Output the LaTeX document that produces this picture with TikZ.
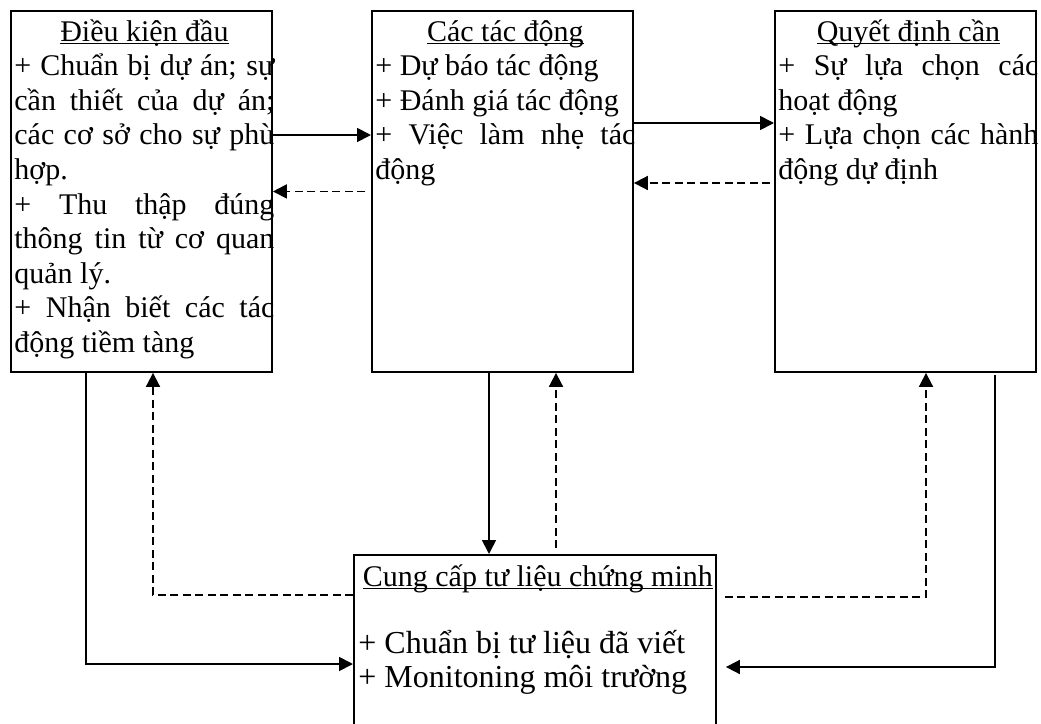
\documentclass[tikz,border=0pt]{standalone}
\usepackage{fontspec}
\setmainfont{Liberation Serif}
\usetikzlibrary{arrows.meta}
\newcommand\ulttl[1]{\setbox0\hbox{#1}\rlap{\rule[-3.2pt]{\wd0}{1.6pt}}\box0}
\newcommand\jl[1]{\makebox[260pt][s]{#1}}
\newcommand\ctr[1]{\makebox[260pt]{#1}}
\newcommand\boxtext[1]{\parbox[t]{260pt}{\lineskiplimit=-100pt\lineskip=0pt\parindent=0pt #1}}
\begin{document}
\begin{tikzpicture}[x=1pt,y=-1pt,line width=1.8pt,
  box/.style={draw,line width=1.9pt,rectangle,inner sep=0pt,anchor=north west},
  txt/.style={anchor=base west,inner sep=0pt,font=\fontsize{30}{34.6}\selectfont},
  sol/.style={-{Triangle[length=14pt,width=14pt]}},
  dsh/.style={dash pattern=on 8pt off 4.5pt,-{Triangle[length=14pt,width=14pt]}}]
\useasboundingbox (0,0) rectangle (1041,723);
\clip (0,0) rectangle (1041,723);
\fill[white] (0,0) rectangle (1041,723);
% boxes
\node[box,minimum width=261pt,minimum height=361pt] (b1) at (10,10) {};
\node[box,minimum width=261pt,minimum height=361pt] (b2) at (371,10) {};
\node[box,minimum width=261pt,minimum height=361pt] (b3) at (774,10) {};
\node[box,minimum width=362pt,minimum height=220pt] (b4) at (353,554) {};
% texts
\node[txt] (t1) at (13.5,41) {\boxtext{\ctr{\ulttl{Điều kiện đầu}}\\
\jl{+ Chuẩn bị dự án; sự}\\
\jl{cần thiết của dự án;}\\
\jl{các cơ sở cho sự phù}\\
hợp.\\
\jl{+ Thu thập đúng}\\
\jl{thông tin từ cơ quan}\\
quản lý.\\
\jl{+ Nhận biết các tác}\\
động tiềm tàng}};
\node[txt] (t2) at (374.5,41) {\boxtext{\ctr{\ulttl{Các tác động}}\\
+ Dự báo tác động\\
+ Đánh giá tác động\\
\jl{+ Việc làm nhẹ tác}\\
động}};
\node[txt] (t3) at (777.5,41) {\boxtext{\ctr{\ulttl{Quyết định cần}}\\
\jl{+ Sự lựa chọn các}\\
hoạt động\\
\jl{+ Lựa chọn các hành}\\
động dự định}};
\node[txt] (t4a) at (362,586) {\ulttl{Cung cấp tư liệu chứng minh}};
\node[txt,font=\fontsize{32}{34.5}\selectfont] (t4b) at (357.5,653) {\parbox[t]{350pt}{\lineskiplimit=-100pt\lineskip=0pt\parindent=0pt + Chuẩn bị tư liệu đã viết\\
+ Monitoning môi trường}};
% connectors
\draw[sol] (b1.east |- 0,135) -- (b2.west |- 0,135);
\draw[dsh,shorten <=6pt] (b2.west) -- (b1.east);
\draw[sol] (b2.east |- 0,123) -- (b3.west |- 0,123);
\draw[dsh,shorten <=4pt] (b3.west |- 0,183) -- (b2.east |- 0,183);
\draw[sol] (b2.south -| 489,0) -- (b4.north -| 489,0);
\draw[dsh,shorten <=6pt] (b4.north -| 556,0) -- (b2.south -| 556,0);
\draw[dsh] (b4.west |- 0,595) -| (b1.south -| 153,0);
\draw[sol] (b1.south -| 86,0) |- (b4.west |- 0,664);
\draw[dsh,shorten <=8pt] (b4.east |- 0,597) -| (b3.south -| 926,0);
\draw[sol,shorten <=2pt,shorten >=9pt] (b3.south -| 995,0) |- (b4.east |- 0,667);
\end{tikzpicture}
\end{document}
